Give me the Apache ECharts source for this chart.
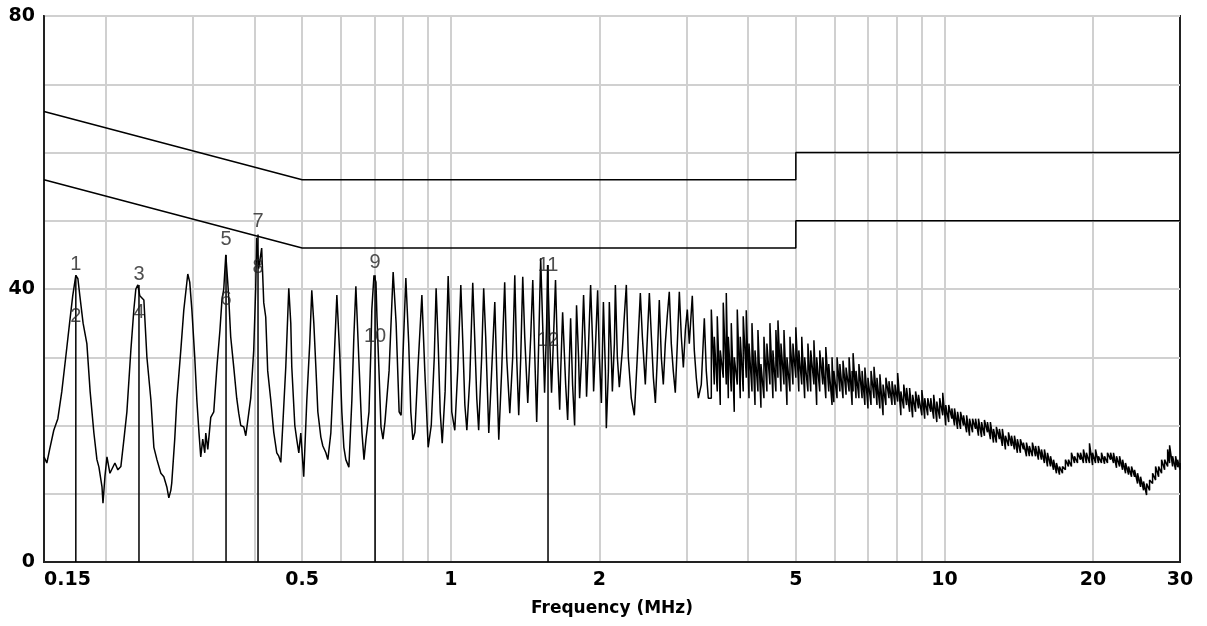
<!DOCTYPE html>
<html><head><meta charset="utf-8">
<script src="https://cdn.jsdelivr.net/npm/echarts@6/dist/echarts.min.js"></script>
<style>html,body{margin:0;padding:0;background:#fff}#c{width:1207px;height:626px}</style>
</head><body><div id="c"></div>
<script>
const traceFreqMHz = [
0.150,0.152,0.154,0.157,0.160,0.163,0.166,0.169,0.1715,0.174,0.1757,0.1773,0.180,0.1832,0.186,0.1893,0.1920,0.1938,0.1966,0.1975,
0.1993,0.2012,0.2040,0.2059,0.2088,0.2117,0.2147,0.2177,0.2208,0.2249,0.2281,0.2302,0.2324,0.2345,0.2390,0.2424,0.2470,0.2504,0.2540,0.2587,
0.2623,0.2660,0.2685,0.2710,0.2722,0.2760,0.2787,0.2839,0.2879,0.2933,0.2960,0.2990,0.3030,0.3060,0.3090,0.3116,0.3145,0.3175,0.3190,0.3220,
0.3265,0.3311,0.3360,0.3408,0.3440,0.3469,0.3502,0.3534,0.3550,0.3583,0.3634,0.3685,0.3720,0.3755,0.3808,0.3844,0.3898,0.3934,0.3989,0.4026,
0.4045,0.4083,0.4140,0.4180,0.4219,0.4258,0.4320,0.4380,0.4442,0.4484,0.4526,0.4568,0.4633,0.4698,0.4742,0.4764,0.4832,0.4877,0.4923,0.4969,
0.5037,0.511,0.518,0.523,0.528,0.533,0.538,0.5456,0.5507,0.5585,0.5637,0.5716,0.5797,0.5879,0.5962,0.6017,0.6074,0.613,0.6218,0.6305,
0.6364,0.6424,0.6514,0.658,0.661,0.6672,0.6734,0.6766,0.6829,0.689,0.692,0.699,0.7055,0.7088,0.7155,0.7222,0.729,0.7357,
0.750,0.7644,0.775,0.786,0.7933,0.800,0.811,0.822,0.830,0.838,0.846,0.8575,0.874,0.886,0.900,0.913,0.926,0.934,0.943,0.952,
0.961,0.974,0.988,0.997,1.0047,1.019,1.033,1.048,1.058,1.068,1.078,1.093,1.108,1.118,1.129,1.139,1.155,1.166,1.177,1.194,
1.205,1.228,1.239,1.251,1.268,1.286,1.298,1.317,1.335,1.348,1.36,1.373,1.386,1.399,1.412,1.432,1.452,1.466,1.480,1.493,
1.507,1.521,1.535,1.549,1.564,1.571,1.586,1.600,1.615,1.630,1.646,1.662,1.670,1.685,1.709,1.725,1.749,1.765,1.782,1.798,
1.815,1.824,1.841,1.858,1.876,1.884,1.902,1.920,1.938,1.947,1.965,1.984,2.000,2.019,2.038,2.057,2.066,2.086,2.095,2.115,
2.125,2.145,2.155,2.175,2.195,2.226,2.247,2.268,2.289,2.321,2.354,2.387,2.421,2.444,2.478,2.502,2.525,2.549,2.573,2.597,
2.621,2.645,2.670,2.695,2.720,2.745,2.771,2.797,2.823,2.850,2.877,2.904,2.931,2.959,2.987,3.014,3.042,3.085,3.114,3.143,
3.173,3.217,3.263,3.293,3.324
];
const traceLevelDb = [
15.4,14.5,16.5,19.3,21,25,30,35,39,42,41.5,39,35,32,25,18.9,15,13.9,11,8.6,
12.5,15.4,13,12.8,14.5,13.5,14,17.9,22,31,37,40,40.6,39,38.4,30,23.7,16.8,15,13,
12.5,11,9.4,10.5,11.6,18,23.7,31,36.9,42.2,41,36.9,30,23.7,19,15.4,18,16,18.9,16.5,
21.2,22,28.6,34,38.4,40,45,41,38.8,33,28.6,24,21.8,20,19.8,18.5,21.8,24,31,40,
47.5,43,46,38,35.9,28,23.7,19,16,15.5,14.6,20,28.6,40.1,35,28.6,20,17.9,16,18.9,
12.5,23.7,32,39.8,35,28.6,22,18.3,17,16,15,18.9,28.6,39.1,30,22,16.8,15,13.9,23.7,
33,40.4,29.6,22,18.9,15,18,19.3,22,31,37,42,41,35.9,28,19.8,18,20.5,
28,42.5,35,22,21.5,30,41.6,32,22,17.9,19,28,39.1,28,16.8,20,30,40.1,32,22,
17.4,25,41.9,33,22,19.3,28,40.6,32,23,19.3,27,40.9,33,24,19.3,30,40.1,33,18.9,
25,38.1,28,17.9,28,41,30,21.8,30,42,30,21.5,30,41.8,33,23.3,33,41.3,30,20.5,
32,44.5,35,24.8,35,43.5,33,24.8,33,41.3,30,22.3,28,36.6,26,20.8,35.7,26,20,37.6,
30,24,30,39.1,30,24.2,32,40.6,32,25,32,39.8,30,23.3,38.1,28,19.6,28,38.1,30,
25,32,40.6,30,25.6,31,36,40.6,30,24,21.5,30,39.4,33,26,33,39.4,33,27,23.3,
30,38.4,30,26,32,36,39.6,32,28,24.8,32,39.6,33,28.5,34,37,32,39,31,27,
24,26,35.7,28,24
];
// Dense part above ~3.3 MHz: per sample frequency, max and min level of the vertical stroke
const denseFreqMHz = [
3.371,3.418,3.466,3.515,3.564,3.615,3.649,3.700,3.752,3.805,3.858,3.912,3.968,4.019,4.075,4.133,4.19,4.249,4.309,4.369,
4.431,4.493,4.556,4.60,4.665,4.731,4.797,4.865,4.933,5.0,5.07,5.14,5.21,5.29,5.36,5.44,5.51,5.59,5.67,5.75,
5.83,5.92,5.97,6.06,6.14,6.23,6.32,6.41,6.50,6.53,6.62,6.71,6.81,6.90,7.00,7.10,7.20,7.30,7.40,7.51,
7.61,7.72,7.83,7.94,8.04,8.16,8.27,8.38,8.50,8.62,8.74,8.86,9.00,9.12,9.25,9.38,9.51,9.65,9.78,9.92,
10.06,10.20,10.35,10.48,10.63,10.78,10.93,11.09,11.24,11.40,11.56,11.72,11.89,12.05,12.22,12.39,12.57,12.74,12.92,13.10,
13.29,13.48,13.67,13.86,14.05,14.25,14.45,14.66,14.86,15.07,15.29,15.50,15.72,15.94,16.17,16.40,16.63,16.86,17.10,17.34,
17.58,17.83,18.08,18.34,18.60,18.86,19.12,19.39,19.67,19.95,20.23,20.51,20.80,21.10,21.39,21.70,22.00,22.31,22.63,22.95,
23.27,23.60,23.93,24.27,24.61,24.96,25.31,25.67,26.03,26.40,26.77,27.15,27.53,27.92,28.32,28.58,28.98,29.39,29.67,30.0
];
const denseHighDb = [
37,33,36,31,38,39.4,33,35,30,37,33,36,36.9,32,35,31,34,29,33,32,
35,31,34,35.4,32,34,30,33,32,34.4,31,33,30,32,31,32.5,30,31,30,31.5,
29,30,28,30,29,29.5,28.5,30,28,30.6,28,29,28,28.5,27,28,28.6,27,27.5,26,
27,26.5,26.5,26,27.7,25,26,25.5,25.5,24.5,25,24.5,25.2,24,24,24,24.5,23.5,24,24.8,
23,23,22.5,22.5,22,22,21.5,21.5,21,21,21,21,20.5,20.8,20.5,20.5,19.5,19.8,19.5,19.5,
18.5,19,18.5,18.5,18,18,17.5,17.5,17,17.5,17,17,16.5,16.5,16,15.5,15,14.5,14,14,
15,15,16,15.5,16,16,16.5,16,17.4,16,16.5,15.5,16,15.5,16,16,16,15.5,15.5,15,
14.5,14,14,13.5,13,12.5,11.8,11.5,12,13,14,14,15,15,16.5,17.1,15.5,15.5,15,14.5
];
const denseLowDb = [
24,26,25,23,27,26,24,25,22,26,24,25,27,24,25,23,25,22.6,24,25,
26,24,25,27,25,26,23,25,26,27,25,26,24,25,25,26,23,25,26,24,
25,23,23.4,24,25,24,24.5,25,23,25,24,24,24,23,22.5,23,24,23,22.5,21.5,
23,24,23,23,23.5,21.5,22.5,23,22,21.2,22,22.5,21.5,21,21.5,22,21,20.5,21,21.5,
20,20.5,21,20,19.5,19.5,20,19,18.5,19,19.5,18.5,18.3,18.5,19,18,17.5,17.5,18,17,
16.5,17,17,16.5,16,16,16.5,15.5,15.5,15.5,15.5,15,15,14.5,14,14,13.5,13,12.8,13,
13.5,14,14,14.5,14.5,15,14.5,14.5,14.5,14.2,14.5,14.5,14.5,14.4,14.5,15,14.5,13.8,14,13.5,
13,12.8,12.5,12.5,11.5,11,10.5,9.8,10.5,11.5,12,12.5,13,13.5,14,14.5,14,13.5,13.9,13.5
];
// Limit lines
const qpLimitFreq = [0.15, 0.5, 5, 5, 30];
const qpLimitDb   = [66, 56, 56, 60, 60];
const avLimitFreq = [0.15, 0.5, 5, 5, 30];
const avLimitDb   = [56, 46, 46, 50, 50];
// Markers
const markerFreqMHz = [0.174, 0.2336, 0.3506, 0.407, 0.7026, 1.574];
const markerPeakDb  = [42, 40.6, 45, 48, 42, 43.5];
const markerLabels    = ['1','2','3','4','5','6','7','8','9','10','11','12'];
const markerLabelFreq = [0.174,0.174,0.2336,0.2336,0.3506,0.3506,0.407,0.407,0.7026,0.7026,1.574,1.574];
const markerLabelDb   = [43.6,35.9,42.2,36.5,47.2,38.4,49.9,43.1,43.9,33,43.5,32.5];
// Axes
const xLabelTicks = [0.15, 0.5, 1, 2, 5, 10, 20, 30];
const xGridTicks  = [0.2,0.3,0.4,0.5,0.6,0.7,0.8,0.9,1,2,3,4,5,6,7,8,9,10,20];
const yLabelTicks = [0, 40, 80];

const L = Math.log10;
const trace = traceFreqMHz.map((f, i) => [L(f), traceLevelDb[i]]);
denseFreqMHz.forEach((f, i) => {
  trace.push([L(f), denseLowDb[i]], [L(f), denseHighDb[i]]);
});
const qp = qpLimitFreq.map((f, i) => [L(f), qpLimitDb[i]]);
const av = avLimitFreq.map((f, i) => [L(f), avLimitDb[i]]);

const series = [
  { type: 'line', data: trace, showSymbol: false, lineStyle: { color: '#000', width: 1.5 }, z: 3, silent: true },
  { type: 'line', data: qp, showSymbol: false, lineStyle: { color: '#000', width: 1.5 }, z: 3, silent: true },
  { type: 'line', data: av, showSymbol: false, lineStyle: { color: '#000', width: 1.5 }, z: 3, silent: true }
];
markerFreqMHz.forEach((f, i) => {
  series.push({ type: 'line', data: [[L(f), 0], [L(f), markerPeakDb[i]]], showSymbol: false,
    lineStyle: { color: '#000', width: 1.5 }, z: 4, silent: true });
});
series.push({
  type: 'scatter', symbolSize: 0, z: 5, silent: true,
  data: markerLabels.map((t, i) => ({ name: t, value: [L(markerLabelFreq[i]), markerLabelDb[i]] })),
  label: { show: true, position: 'inside', formatter: p => p.name,
    fontFamily: 'Liberation Sans', fontSize: 20, color: '#222' }
});

const chart = echarts.init(document.getElementById('c'), null, { renderer: 'canvas' });
chart.setOption({
  animation: false,
  backgroundColor: '#fff',
  grid: { left: 44, right: 27, top: 16, bottom: 64, show: true, borderColor: '#222', borderWidth: 2, backgroundColor: 'transparent' },
  xAxis: {
    type: 'value', min: L(0.15), max: L(30),
    axisLine: { show: true, onZero: false, lineStyle: { color: '#222', width: 2 } },
    axisTick: { show: false, customValues: xGridTicks.map(L) },
    axisLabel: { customValues: xLabelTicks.map(L), formatter: v => String(parseFloat(Math.pow(10, v).toPrecision(2))),
      fontFamily: 'DejaVu Sans', fontWeight: 'bold', fontSize: 19, color: '#000', margin: 9, alignMinLabel: 'left' },
    splitLine: { show: true, lineStyle: { color: '#d0d0d0', width: 2 } },
    name: 'Frequency (MHz)', nameLocation: 'middle', nameGap: 38,
    nameTextStyle: { fontFamily: 'DejaVu Sans', fontWeight: 'bold', fontSize: 17, color: '#000' }
  },
  yAxis: {
    type: 'value', min: 0, max: 80, interval: 10,
    axisLine: { show: true, onZero: false, lineStyle: { color: '#222', width: 2 } },
    axisTick: { show: false },
    axisLabel: { formatter: v => yLabelTicks.includes(v) ? String(v) : '',
      fontFamily: 'DejaVu Sans', fontWeight: 'bold', fontSize: 19, color: '#000', margin: 9 },
    splitLine: { show: true, lineStyle: { color: '#d0d0d0', width: 2 } }
  },
  series: series
});
</script>
</body></html>
